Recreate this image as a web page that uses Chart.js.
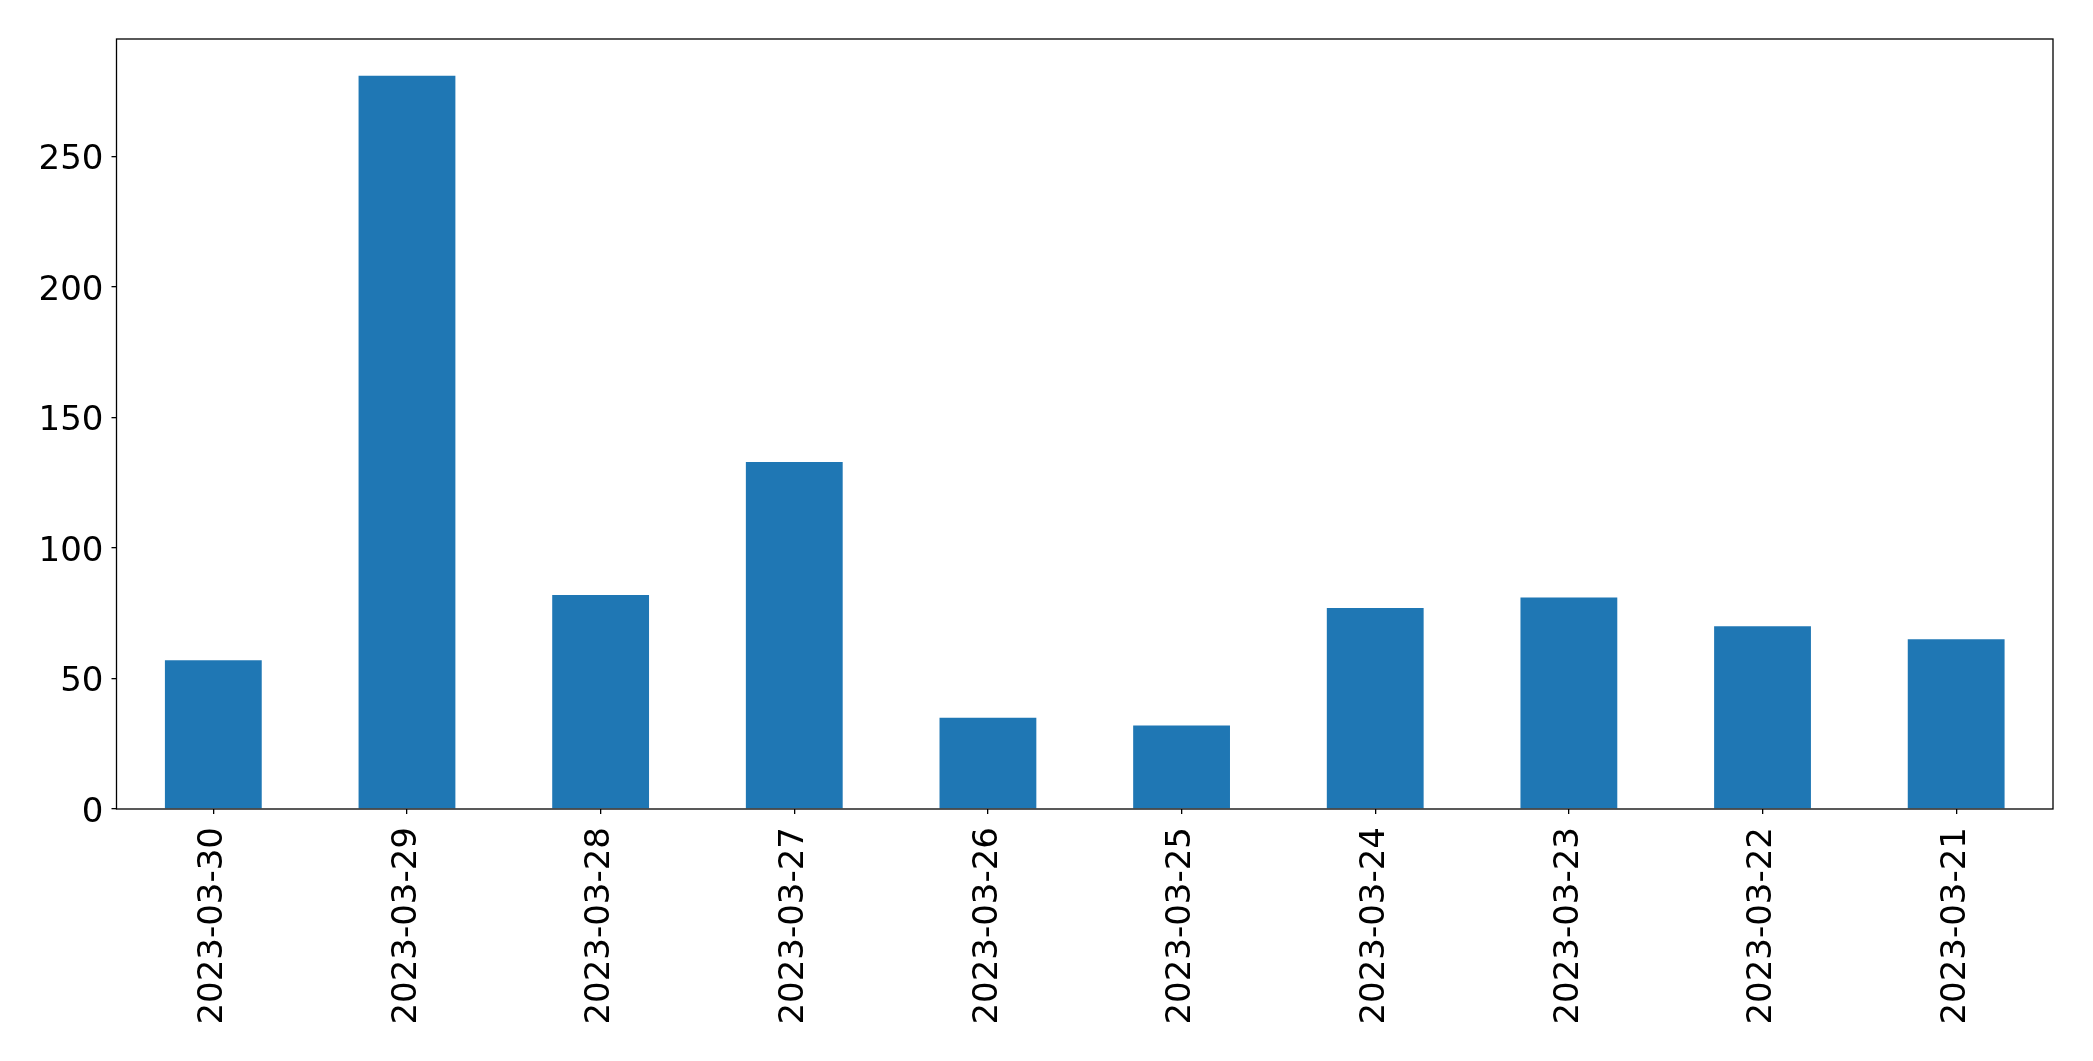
<!DOCTYPE html>
<html>
<head>
<meta charset="utf-8">
<script src="https://cdn.jsdelivr.net/npm/chart.js@4/dist/chart.umd.min.js"></script>
<style>
    html, body { margin: 0; padding: 0; background: #fff; }
    #wrap { width: 2093px; height: 1061px; }
</style>
</head>
<body>
<div id="wrap"><canvas id="barChart" width="2093" height="1061"></canvas></div>
<script>
// data
var dates = ['2023-03-30', '2023-03-29', '2023-03-28', '2023-03-27', '2023-03-26',
             '2023-03-25', '2023-03-24', '2023-03-23', '2023-03-22', '2023-03-21'];
var counts = [57, 281, 82, 133, 35, 32, 77, 81, 70, 65];
var yTicks = [0, 50, 100, 150, 200, 250];

document.addEventListener("DOMContentLoaded", function() {
    var fontSpec = { family: 'DejaVu Sans', size: 34 };

    // box around the plot area (matplotlib spines)
    var frame = {
        id: 'frame',
        afterDraw: function(chart) {
            var a = chart.chartArea, c = chart.ctx;
            c.save();
            c.strokeStyle = '#000';
            c.lineWidth = 1.3;
            c.strokeRect(a.left, a.top, a.right - a.left, a.bottom - a.top);
            c.restore();
        }
    };

    var ctx = document.getElementById('barChart').getContext('2d');
    var barChart = new Chart(ctx, {
        type: 'bar',
        data: {
            labels: dates,
            datasets: [{
                data: counts,
                backgroundColor: '#1f77b4',
                barPercentage: 0.5,
                categoryPercentage: 1.0
            }]
        },
        options: {
            responsive: false,
            animation: false,
            layout: { padding: { left: 0, top: 39, right: 40, bottom: 0 } },
            plugins: { legend: { display: false }, tooltip: { enabled: false } },
            scales: {
                x: {
                    grid: { display: true, offset: false, drawOnChartArea: false, drawTicks: true,
                            tickLength: 5, color: '#000', lineWidth: 1.3 },
                    border: { display: false },
                    ticks: { color: '#000', font: fontSpec, minRotation: 90, maxRotation: 90,
                             autoSkip: false, padding: 13 },
                    afterFit: function(s) { s.height = 1061 - 809; }
                },
                y: {
                    min: 0,
                    max: Math.max.apply(null, counts) * 1.05,
                    afterBuildTicks: function(s) {
                        s.ticks = yTicks.map(function(v) { return { value: v }; });
                    },
                    grid: { display: true, drawOnChartArea: false, drawTicks: true,
                            tickLength: 5, color: '#000', lineWidth: 1.3 },
                    border: { display: false },
                    ticks: { color: '#000', font: fontSpec, padding: 8, labelOffset: 4 },
                    afterFit: function(s) { s.width = 116.5; }
                }
            }
        },
        plugins: [frame]
    });
});
</script>
</body>
</html>
